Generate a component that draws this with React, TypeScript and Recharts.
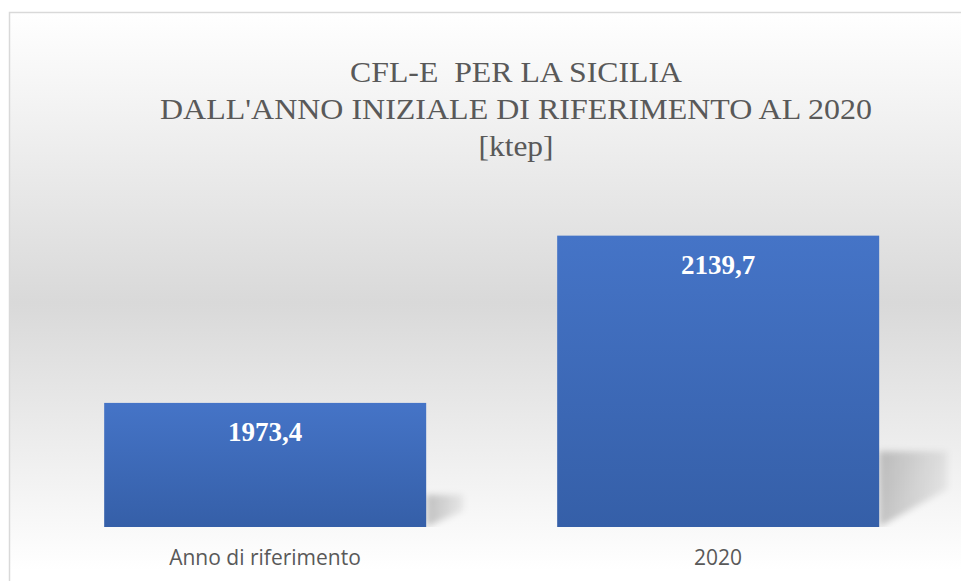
import { Bar, BarChart, LabelList, XAxis, YAxis } from 'recharts';

const categories = ['Anno di riferimento', '2020'];
const values = [1973.4, 2139.7];
const titleLines = ['CFL-E  PER LA SICILIA', "DALL'ANNO INIZIALE DI RIFERIMENTO AL 2020", '[ktep]'];
const yDomain = [1850, 2200];

const data = categories.map((name, i) => ({ name, value: values[i] }));

const W = 961;
const H = 581;
const GREY = '#595959';

function formatIt(v: number): string {
  return v.toFixed(1).replace('.', ',');
}

// bar with the slanted drop shadow Excel draws to its lower right
function ShadowBar(props: any) {
  const { x, y, width, height } = props;
  const r = x + width;
  const b = y + height;
  const sh = height * 0.26;
  const sw = 14 + height * 0.186;
  const low = height * 0.13;
  const pts = `${r},${b - sh} ${r + sw},${b - sh} ${r + sw},${b - low} ${r},${b}`;
  return (
    <g>
      <polygon points={pts} fill="url(#shadowGrad)" filter="url(#shadowBlur)" />
      <rect x={x} y={b - 1} width={width} height={3} fill="#000" opacity={0.08} filter="url(#shadowBlur)" />
      <rect x={x} y={y} width={width} height={height} fill="url(#barGrad)" />
    </g>
  );
}

function ValueLabel(props: any) {
  const { x, y, width, value } = props;
  return (
    <text
      x={x + width / 2}
      y={y + 38}
      textAnchor="middle"
      fill="#ffffff"
      fontFamily="'Liberation Serif', 'Times New Roman', serif"
      fontWeight="bold"
      fontSize={27}
    >
      {formatIt(value)}
    </text>
  );
}

export default function App() {
  const titleY = [82, 119, 156];
  const titleWidths = [332, 712, 75];
  return (
    <div style={{ position: 'absolute', left: 0, top: 0, width: W, height: H, overflow: 'hidden' }}>
      <svg width={W} height={H} style={{ position: 'absolute', left: 0, top: 0 }}>
        <defs>
          <linearGradient id="bgGrad" x1="0" y1="0" x2="0" y2="1">
            <stop offset="0%" stopColor="#ffffff" />
            <stop offset="50%" stopColor="#d9d9d9" />
            <stop offset="96%" stopColor="#ffffff" />
          </linearGradient>
        </defs>
        <rect x={9.5} y={12.5} width={W} height={H} fill="url(#bgGrad)" stroke="#d9d9d9" strokeWidth={1.5} />
        {titleLines.map((t, i) => (
          <text
            key={t}
            x={516}
            y={titleY[i]}
            textAnchor="middle"
            fill={GREY}
            fontFamily="'Liberation Serif', 'Times New Roman', serif"
            fontSize={29}
            textLength={titleWidths[i]}
            lengthAdjust="spacingAndGlyphs"
            style={{ whiteSpace: 'pre' }}
          >
            {t}
          </text>
        ))}
      </svg>
      <div style={{ position: 'absolute', left: 0, top: 0 }}>
        <BarChart
          width={W}
          height={H}
          data={data}
          margin={{ top: 175, right: 16.5, bottom: 0, left: 38.5 }}
          barCategoryGap="14.5%"
        >
          <defs>
            <linearGradient id="barGrad" x1="0" y1="0" x2="0" y2="1">
              <stop offset="0%" stopColor="#4574c7" />
              <stop offset="100%" stopColor="#355fa8" />
            </linearGradient>
            <linearGradient id="shadowGrad" x1="0" y1="0" x2="1" y2="0">
              <stop offset="0%" stopColor="#000" stopOpacity={0.22} />
              <stop offset="100%" stopColor="#000" stopOpacity={0.06} />
            </linearGradient>
            <filter id="shadowBlur" x="-20%" y="-20%" width="140%" height="140%">
              <feGaussianBlur stdDeviation={3} />
            </filter>
          </defs>
          <XAxis
            dataKey="name"
            height={54}
            axisLine={false}
            tickLine={false}
            tickMargin={17}
            tick={{ fill: GREY, fontSize: 21, fontFamily: "'Open Sans', sans-serif" }}
          />
          <YAxis hide domain={yDomain} allowDataOverflow />
          <Bar dataKey="value" shape={ShadowBar} isAnimationActive={false}>
            <LabelList dataKey="value" content={ValueLabel} />
          </Bar>
        </BarChart>
      </div>
    </div>
  );
}
